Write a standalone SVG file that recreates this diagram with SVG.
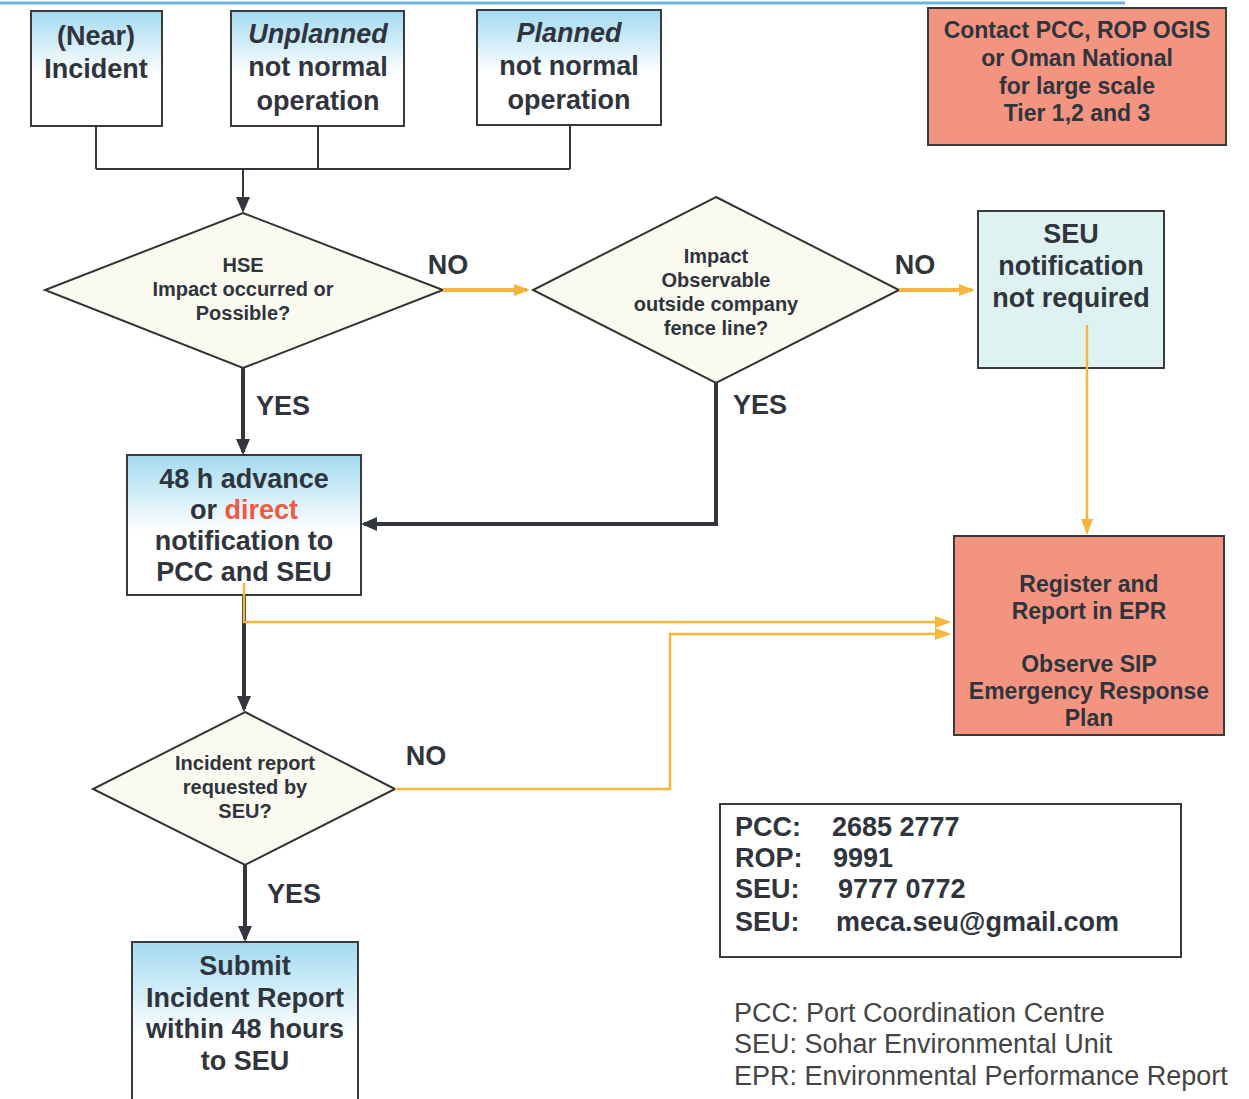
<svg xmlns="http://www.w3.org/2000/svg" width="1249" height="1099" viewBox="0 0 1249 1099">
<defs>
<linearGradient id="gblue" x1="0" y1="0" x2="0" y2="1">
<stop offset="0" stop-color="#a3daf0"/>
<stop offset="0.55" stop-color="#ffffff"/>
<stop offset="1" stop-color="#ffffff"/>
</linearGradient>
<marker id="ad" markerUnits="userSpaceOnUse" markerWidth="16" markerHeight="16" viewBox="0 0 16 16" refX="13" refY="8" orient="auto"><path d="M0,1 L16,8 L0,15 Z" fill="#33363d"/></marker>
<marker id="ao" markerUnits="userSpaceOnUse" markerWidth="16" markerHeight="14" viewBox="0 0 16 14" refX="13" refY="7" orient="auto"><path d="M0,1 L16,7 L0,13 Z" fill="#f5b53f"/></marker>
</defs>
<style>
.box{stroke:#3a3a3a;stroke-width:2}
.blue{fill:url(#gblue)}
.salmon{fill:#f39481}
.cyan{fill:#def3f1}
.dia{fill:#fbfaf0;stroke:#333;stroke-width:2}
text{font-family:"Liberation Sans",Arial,sans-serif;fill:#2f343d}
.t27{font-size:27px;font-weight:bold;text-anchor:middle}
.t23{font-size:23px;font-weight:bold;text-anchor:middle}
.t20{font-size:20px;font-weight:bold;text-anchor:middle}
.lbl{font-size:27px;font-weight:bold}
.leg{font-size:27px;fill:#444}
.dk{fill:none;stroke:#33363d;stroke-width:4}
.dkt{fill:none;stroke:#33363d;stroke-width:2}
.or{fill:none;stroke:#f5b53f;stroke-width:4}
.ort{fill:none;stroke:#f5b53f;stroke-width:2.5}
</style>
<rect width="1249" height="1099" fill="#ffffff"/>
<line x1="0" y1="3" x2="1125" y2="3" stroke="#6cb4e0" stroke-width="3"/>

<g id="near-incident">
<rect class="box blue" x="31" y="11" width="131" height="115"/>
<text class="t27" x="96" y="45">(Near)</text>
<text class="t27" x="96" y="78">Incident</text>
</g>
<g id="unplanned">
<rect class="box blue" x="231" y="11" width="173" height="115"/>
<text class="t27" x="318" y="43" font-style="italic">Unplanned</text>
<text class="t27" x="318" y="76">not normal</text>
<text class="t27" x="318" y="110">operation</text>
</g>
<g id="planned">
<rect class="box blue" x="477" y="10" width="184" height="115"/>
<text class="t27" x="569" y="42" font-style="italic">Planned</text>
<text class="t27" x="569" y="75">not normal</text>
<text class="t27" x="569" y="109">operation</text>
</g>
<g id="contact-large">
<rect class="box salmon" x="928" y="8" width="298" height="137"/>
<text class="t23" x="1077" y="38">Contact PCC, ROP OGIS</text>
<text class="t23" x="1077" y="66">or Oman National</text>
<text class="t23" x="1077" y="94">for large scale</text>
<text class="t23" x="1077" y="121">Tier 1,2 and 3</text>
</g>
<g id="hse-diamond">
<polygon class="dia" points="243,213 443,290 243,368 45,290"/>
<text class="t20" x="243" y="272">HSE</text>
<text class="t20" x="243" y="296">Impact occurred or</text>
<text class="t20" x="243" y="320">Possible?</text>
</g>
<g id="observable-diamond">
<polygon class="dia" points="716,197 899,290 716,383 533,290"/>
<text class="t20" x="716" y="263">Impact</text>
<text class="t20" x="716" y="287">Observable</text>
<text class="t20" x="716" y="311">outside company</text>
<text class="t20" x="716" y="335">fence line?</text>
</g>
<g id="seu-not-required">
<rect class="box cyan" x="978" y="211" width="186" height="157"/>
<text class="t27" x="1071" y="243">SEU</text>
<text class="t27" x="1071" y="275">notification</text>
<text class="t27" x="1071" y="307">not required</text>
</g>
<g id="notification">
<rect class="box blue" x="127" y="455" width="234" height="140"/>
<text class="t27" x="244" y="488">48 h advance</text>
<text class="t27" x="244" y="519">or <tspan fill="#ee5a42">direct</tspan></text>
<text class="t27" x="244" y="550">notification to</text>
<text class="t27" x="244" y="581">PCC and SEU</text>
</g>
<g id="register">
<rect class="box salmon" x="954" y="536" width="270" height="199"/>
<text class="t23" x="1089" y="592">Register and</text>
<text class="t23" x="1089" y="619">Report in EPR</text>
<text class="t23" x="1089" y="672">Observe SIP</text>
<text class="t23" x="1089" y="699">Emergency Response</text>
<text class="t23" x="1089" y="726">Plan</text>
</g>
<g id="report-diamond">
<polygon class="dia" points="245,712 395,789 245,865 93,789"/>
<text class="t20" x="245" y="770">Incident report</text>
<text class="t20" x="245" y="794">requested by</text>
<text class="t20" x="245" y="818">SEU?</text>
</g>
<g id="submit">
<rect class="box blue" x="132" y="942" width="226" height="170"/>
<text class="t27" x="245" y="975">Submit</text>
<text class="t27" x="245" y="1007">Incident Report</text>
<text class="t27" x="245" y="1038">within 48 hours</text>
<text class="t27" x="245" y="1070">to SEU</text>
</g>
<g id="labels">
<text class="lbl" x="448" y="274" text-anchor="middle">NO</text>
<text class="lbl" x="915" y="274" text-anchor="middle">NO</text>
<text class="lbl" x="426" y="765" text-anchor="middle">NO</text>
<text class="lbl" x="256" y="415">YES</text>
<text class="lbl" x="733" y="414">YES</text>
<text class="lbl" x="267" y="903">YES</text>
</g>
<g id="contacts">
<rect x="720" y="804" width="461" height="153" fill="#fff" stroke="#3a3a3a" stroke-width="2"/>
<text class="lbl" x="735" y="836">PCC:</text><text class="lbl" x="832" y="836">2685 2777</text>
<text class="lbl" x="735" y="867">ROP:</text><text class="lbl" x="833" y="867">9991</text>
<text class="lbl" x="735" y="898">SEU:</text><text class="lbl" x="838" y="898">9777 0772</text>
<text class="lbl" x="735" y="931">SEU:</text><text class="lbl" x="836" y="931">meca.seu@gmail.com</text>
</g>
<g id="legend">
<text class="leg" x="734" y="1022">PCC: Port Coordination Centre</text>
<text class="leg" x="734" y="1053">SEU: Sohar Environmental Unit</text>
<text class="leg" x="734" y="1085">EPR: Environmental Performance Report</text>
</g>

<g id="connectors">
<path class="dkt" d="M96,126 V169 M318,126 V169 M570,125 V169 M96,169 H570"/>
<path class="dkt" d="M243,169 V210" marker-end="url(#ad)"/>
<path class="dk" d="M243,368 V452" marker-end="url(#ad)"/>
<path class="dk" d="M716,383 V524 H364" marker-end="url(#ad)"/>
<path class="or" d="M443,290 H527" marker-end="url(#ao)"/>
<path class="or" d="M899,290 H972" marker-end="url(#ao)"/>
<path class="ort" d="M1087,325 V532" marker-end="url(#ao)"/>
<path class="dk" d="M244,595 V709" marker-end="url(#ad)"/>
<path class="ort" d="M244,583 V622 H948" marker-end="url(#ao)"/>
<path class="ort" d="M395,789 H670 V634 H948" marker-end="url(#ao)"/>
<path class="dk" d="M245,865 V939" marker-end="url(#ad)"/>
</g>
</svg>
